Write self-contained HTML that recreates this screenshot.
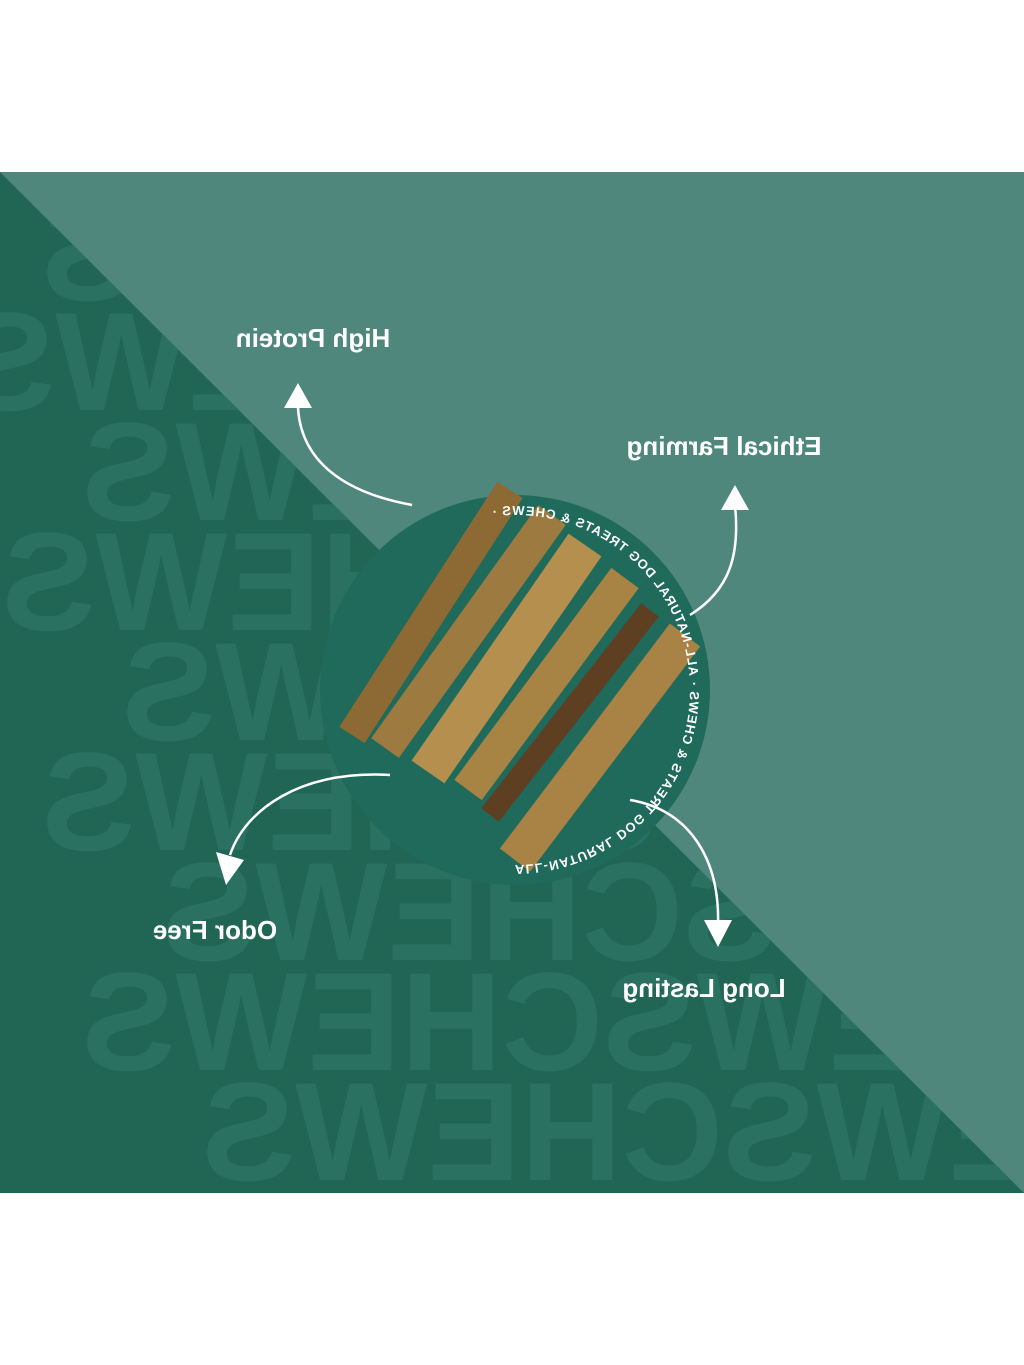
<!DOCTYPE html>
<html><head><style>html,body{margin:0;padding:0;background:#fff}svg{display:block}</style></head>
<body>
<svg width="1024" height="1365" viewBox="0 0 1024 1365" xmlns="http://www.w3.org/2000/svg">
<defs>
<clipPath id="low"><polygon points="0,172 1024,1193 0,1193"/></clipPath>
<path id="cp" d="M515,865 a175,175 0 1,1 0.1,0"/>
</defs>
<rect x="0" y="172" width="1024" height="1021" fill="#4f877c"/>
<polygon points="0,172 1024,1193 0,1193" fill="#216555"/>
<g clip-path="url(#low)">
<g fill="#2b7161" font-family="Liberation Sans, sans-serif" font-weight="bold" font-size="140" transform="translate(1024,0) scale(-1,1)">
<text x="-60" y="300">CHEWSCHEWS</text>
<text x="20" y="410">CHEWSCHEWS</text>
<text x="-100" y="520">CHEWSCHEWS</text>
<text x="-20" y="630">CHEWSCHEWS</text>
<text x="-140" y="740">CHEWSCHEWS</text>
<text x="-60" y="850">CHEWSCHEWS</text>
<text x="-180" y="960">CHEWSCHEWS</text>
<text x="-100" y="1070">CHEWSCHEWS</text>
<text x="-220" y="1180">CHEWSCHEWS</text>
</g>
</g>
<circle cx="515" cy="690" r="195" fill="#1f6a5a"/>
<g fill="none" stroke="#fff" stroke-width="2.5">
<path d="M412,505 C330,490 295,450 298,395"/>
<path d="M690,615 C730,590 740,555 735,505"/>
<path d="M390,775 C300,770 245,810 230,855"/>
<path d="M630,800 C690,810 720,860 718,925"/>
</g>
<g fill="#fff">
<polygon points="284,408 312,408 298,383"/>
<polygon points="721,510 749,510 735,485"/>
<polygon points="216,852 244,860 226,885"/>
<polygon points="704,920 732,920 718,947"/>
</g>
<g stroke-linecap="butt">
<line x1="352" y1="735" x2="510" y2="490" stroke="#8d6a34" stroke-width="30"/>
<line x1="385" y1="748" x2="552" y2="515" stroke="#9c7a40" stroke-width="34"/>
<line x1="428" y1="772" x2="585" y2="545" stroke="#b58f4e" stroke-width="40"/>
<line x1="468" y1="790" x2="625" y2="578" stroke="#a88444" stroke-width="34"/>
<line x1="490" y1="815" x2="650" y2="610" stroke="#5e3f22" stroke-width="22"/>
<line x1="515" y1="860" x2="685" y2="635" stroke="#a98246" stroke-width="38"/>
</g>
<g fill="#fff" font-family="Liberation Sans, sans-serif" font-weight="bold" font-size="26" text-anchor="middle" transform="translate(1024,0) scale(-1,1)">
<text x="711" y="347">High Protein</text>
<text x="300" y="455">Ethical Farming</text>
<text x="809" y="939">Odor Free</text>
<text x="320" y="997">Long Lasting</text>
</g>
<g fill="#fff" font-family="Liberation Sans, sans-serif" font-weight="bold" font-size="13" letter-spacing="1">
<g transform="translate(1030,0) scale(-1,1)"><text><textPath href="#cp">ALL-NATURAL DOG TREATS &amp; CHEWS · ALL-NATURAL DOG TREATS &amp; CHEWS ·</textPath></text></g>
</g>
</svg>
</body></html>
